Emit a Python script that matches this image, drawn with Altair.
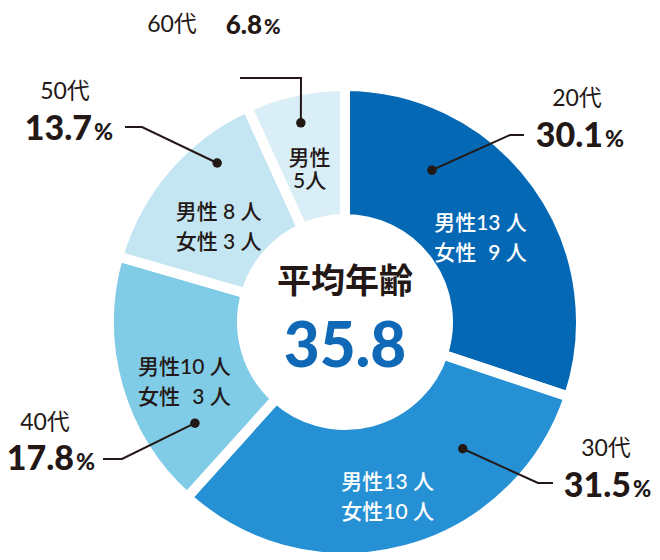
import math
import altair as alt
import pandas as pd

# ---------------- data ----------------
ages = ["20代", "30代", "40代", "50代", "60代"]
age_pct = [30.1, 31.5, 17.8, 13.7, 6.8]
pct_text = ["30.1", "31.5", "17.8", "13.7", "6.8"]
male = [13, 13, 10, 8, 5]
female = [9, 10, 3, 3, None]
avg_title = "平均年齢"
avg_age = "35.8"

# ---------------- style / layout ----------------
colors = ["#0568b4", "#2591d4", "#80cbe6", "#c4e5f2", "#d9eef7"]
DARK = "#231815"
BLUE = "#1069b6"
FONT = "Lato, Noto Sans CJK JP, sans-serif"
CX, CY = 345, 322          # donut centre (page px)
R_OUT, R_IN, GAP = 236, 103, 10
R_LABEL = 167
# leader line layout: dot (polar deg, radius), elbow, end
dot_deg = [29.8, 137.1, 236.0, 321.2, 347.5]
dot_r = [175, 173, 181, 204, 204]
elbow = [(510, 135), (538, 483), (122, 459), (142, 127), (301, 78)]
line_end = [(524, 135), (553, 483), (103, 459), (125, 127), (240, 78)]
# outside labels layout
age_pos = [(577, 99), (606, 449), (45, 423), (65, 92), (172, 25)]
num_pos = [(603, 147), (631, 497), (74, 470), (92, 140), (262, 34)]
num_size = [34, 34, 34, 34, 26]
pc_size = [23, 22, 23, 23, 20]


def polar(deg, r):
    a = math.radians(deg)
    return CX + r * math.sin(a), CY - r * math.cos(a)


def people(m, f):
    if f is None:
        return f"男性\n{m}人"
    ms, fs = str(m), str(f)
    w = max(len(ms), len(fs))
    pad = " " if w == 1 else ""
    return (f"男性{pad}{ms.rjust(w, chr(0x2007))} 人\n"
            f"女性{pad}{fs.rjust(w, chr(0x2007))} 人")


total = sum(age_pct)
slices = pd.DataFrame({"age": ages, "pct": age_pct, "idx": range(len(ages))})

rows_in, rows_dot, rows_line, rows_age, rows_num = [], [], [], [], []
cum = 0.0
for i, a in enumerate(ages):
    mid = (cum + age_pct[i] / 2) / total * 360
    cum += age_pct[i]
    lx, ly = polar(mid, R_LABEL)
    rows_in.append({"age": a, "x": lx, "y": ly, "label": people(male[i], female[i]),
                    "tc": "white" if i < 2 else DARK, "two": female[i] is not None})
    dx, dy = polar(dot_deg[i], dot_r[i])
    rows_dot.append({"age": a, "x": dx, "y": dy})
    for k, (px, py) in enumerate([(dx, dy), elbow[i], line_end[i]]):
        rows_line.append({"age": a, "k": k, "x": px, "y": py})
    rows_age.append({"age": a, "x": age_pos[i][0], "y": age_pos[i][1]})
    rows_num.append({"age": a, "t": pct_text[i], "x": num_pos[i][0], "y": num_pos[i][1],
                     "px": num_pos[i][0] + 2, "fs": num_size[i], "ps": pc_size[i]})

df_in = pd.DataFrame(rows_in)
df_dot = pd.DataFrame(rows_dot)
df_line = pd.DataFrame(rows_line)
df_age = pd.DataFrame(rows_age)
df_num = pd.DataFrame(rows_num)
df_center = pd.DataFrame([{"t": avg_title, "x": CX, "y": 283}])
df_avg = pd.DataFrame([{"t": avg_age, "x": CX, "y": 367}])

# drawing area covers page px 8..652 x 8..552
W, H = 644, 544
X = lambda f="x": alt.X(f"{f}:Q", scale=alt.Scale(domain=[8, 8 + W], nice=False, zero=False), axis=None)
Y = lambda f="y": alt.Y(f"{f}:Q", scale=alt.Scale(domain=[8, 8 + H], nice=False, zero=False, reverse=True), axis=None)

arc = alt.Chart(slices).mark_arc(
    innerRadius=R_IN, outerRadius=R_OUT, stroke="white", strokeWidth=GAP
).encode(
    theta=alt.Theta("pct:Q", stack=True),
    color=alt.Color("age:N", scale=alt.Scale(domain=ages, range=colors), legend=None),
    order=alt.Order("idx:Q"),
    x=alt.value(CX - 8),
    y=alt.value(CY - 8),
)

inside2 = alt.Chart(df_in[df_in["two"]]).mark_text(
    align="center", baseline="middle", lineBreak="\n", lineHeight=30,
    font=FONT, fontSize=21, fontWeight=500
).encode(x=X(), y=Y(), text="label:N", color=alt.Color("tc:N", scale=None))

inside1 = alt.Chart(df_in[~df_in["two"]]).mark_text(
    align="center", baseline="middle", lineBreak="\n", lineHeight=23,
    font=FONT, fontSize=21, fontWeight=500
).encode(x=X(), y=Y(), text="label:N", color=alt.Color("tc:N", scale=None))

lines = alt.Chart(df_line).mark_line(color=DARK, strokeWidth=2).encode(
    x=X(), y=Y(), detail="age:N", order="k:Q"
)
dots = alt.Chart(df_dot).mark_circle(color=DARK, size=90, opacity=1).encode(x=X(), y=Y())

age_txt = alt.Chart(df_age).mark_text(
    align="center", baseline="middle", font=FONT, fontSize=23, fontWeight=400, color=DARK
).encode(x=X(), y=Y(), text="age:N")

num_txt = alt.Chart(df_num).mark_text(
    align="right", baseline="alphabetic", font=FONT, fontWeight=900, color=DARK
).encode(x=X(), y=Y(), text="t:N", size=alt.Size("fs:Q", scale=None))

pc_txt = alt.Chart(df_num).mark_text(
    align="left", baseline="alphabetic", font=FONT, fontWeight=900, color=DARK
).encode(x=X("px"), y=Y(), text=alt.value("%"), size=alt.Size("ps:Q", scale=None))

center_t = alt.Chart(df_center).mark_text(
    align="center", baseline="middle", font="Noto Sans CJK JP", fontSize=34, fontWeight="bold", color=DARK
).encode(x=X(), y=Y(), text="t:N")

avg_t = alt.Chart(df_avg).mark_text(
    align="center", baseline="alphabetic", font=FONT, fontSize=62, fontWeight=900, color=BLUE
).encode(x=X(), y=Y(), text="t:N")

chart = alt.layer(
    arc, inside2, inside1, lines, dots, age_txt, num_txt, pc_txt, center_t, avg_t
).properties(
    width=W, height=H, padding=0, autosize="none"
).configure_view(stroke=None)

chart.save("out.html", embed_options={"renderer": "svg", "actions": False})
